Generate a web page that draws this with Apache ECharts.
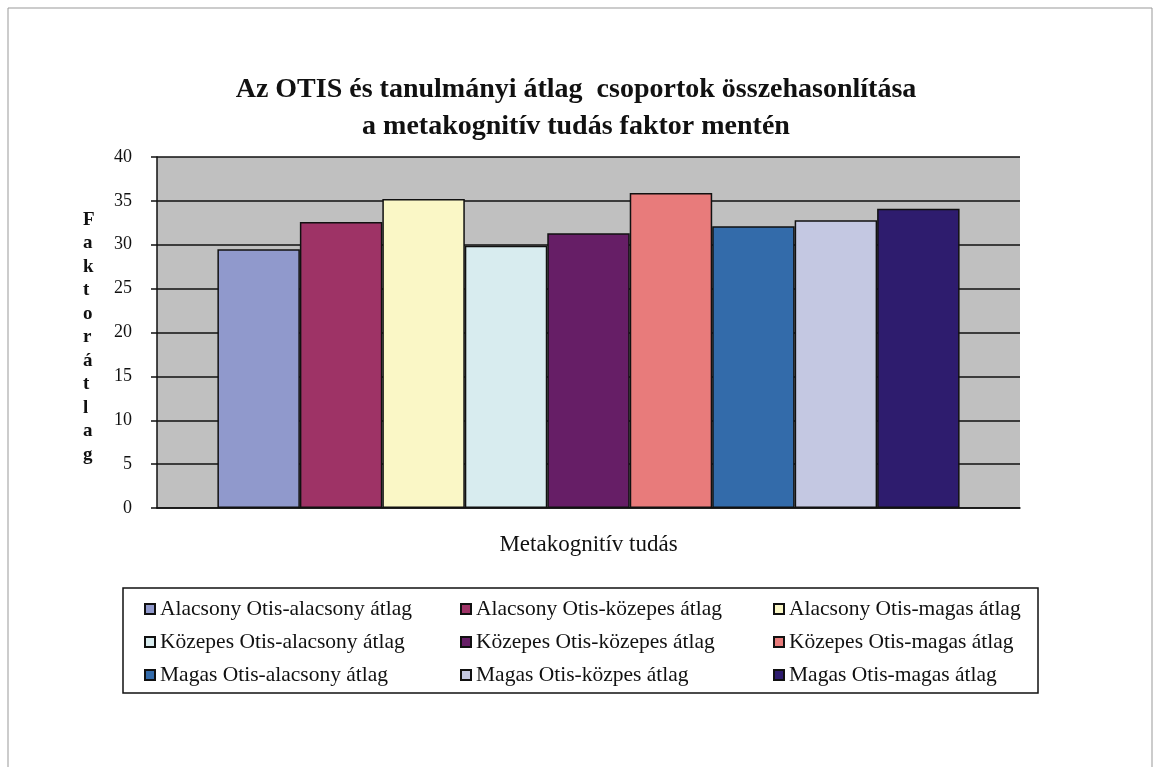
<!DOCTYPE html>
<html>
<head>
<meta charset="utf-8">
<script src="https://cdn.jsdelivr.net/npm/echarts@6/dist/echarts.min.js"></script>
<style>
  html, body { margin: 0; padding: 0; background: #fff; }
  #chart { width: 1160px; height: 767px; }
</style>
</head>
<body>
<div id="chart"></div>
<script>
// adatok
const category = ['Metakognitív tudás']
const groupNames = [
  'Alacsony Otis-alacsony átlag',
  'Alacsony Otis-közepes átlag',
  'Alacsony Otis-magas átlag',
  'Közepes Otis-alacsony átlag',
  'Közepes Otis-közepes átlag',
  'Közepes Otis-magas átlag',
  'Magas Otis-alacsony átlag',
  'Magas Otis-közpes átlag',
  'Magas Otis-magas átlag'
]
const groupValues = [29.5, 32.6, 35.2, 29.9, 31.3, 35.9, 32.1, 32.8, 34.1]
const groupColors = ['#9099cc', '#9e3366', '#faf7c6', '#d8ecef', '#661e66', '#e87b7b', '#336baa', '#c4c8e2', '#2e1c6e']
const yTicks = { min: 0, max: 40, interval: 5 }

const serif = "'Liberation Serif', 'DejaVu Serif', serif"

let myChart = echarts.init(document.getElementById('chart'))

let series = groupNames.map(function (name, i) {
  return {
    name: name,
    type: 'bar',
    barGap: '0%',
    barCategoryGap: '14%',
    data: [groupValues[i]],
    itemStyle: {
      color: groupColors[i],
      borderColor: '#111',
      borderWidth: 1.5
    }
  }
})

// legend: 3 oszlop
let legendCols = [0, 1, 2].map(function (c) {
  return {
    orient: 'vertical',
    left: [139, 455, 768][c],
    top: 593,
    itemWidth: 10,
    itemHeight: 10,
    itemGap: 11,
    icon: 'rect',
    data: [groupNames[c], groupNames[c + 3], groupNames[c + 6]],
    textStyle: { fontFamily: serif, fontSize: 21.5, color: '#111' }
  }
})

let option = {
  backgroundColor: '#fff',
  animation: false,
  title: {
    text: 'Az OTIS és tanulmányi átlag  csoportok összehasonlítása\na metakognitív tudás faktor mentén',
    left: 571,
    textAlign: 'center',
    top: 66,
    textStyle: {
      fontFamily: serif,
      fontSize: 28,
      fontWeight: 'bold',
      color: '#111',
      lineHeight: 37
    }
  },
  legend: legendCols,
  grid: {
    left: 157,
    right: 140,
    top: 157,
    bottom: 259,
    show: true,
    backgroundColor: '#c0c0c0',
    borderWidth: 0
  },
  xAxis: {
    type: 'category',
    data: category,
    axisLine: { lineStyle: { color: '#111', width: 1.5 } },
    axisTick: { show: false },
    axisLabel: { fontFamily: serif, fontSize: 23, color: '#111', margin: 25 }
  },
  yAxis: {
    type: 'value',
    min: yTicks.min,
    max: yTicks.max,
    interval: yTicks.interval,
    axisLine: { show: true, lineStyle: { color: '#111', width: 1.5 } },
    axisTick: { show: true, length: 6, lineStyle: { color: '#111', width: 1.5 } },
    axisLabel: { fontFamily: serif, fontSize: 18, color: '#111', margin: 25 },
    splitLine: { lineStyle: { color: '#111', width: 1.5 } }
  },
  graphic: [
    {
      type: 'rect',
      shape: { x: 8, y: 8, width: 1144, height: 770 },
      style: { fill: 'none', stroke: '#999', lineWidth: 1 },
      silent: true
    },
    {
      type: 'rect',
      shape: { x: 123, y: 588, width: 915, height: 105 },
      style: { fill: 'none', stroke: '#111', lineWidth: 1.5 },
      silent: true,
      z: -1
    },
    {
      type: 'text',
      left: 83,
      top: 208,
      style: {
        text: 'Faktorátlag'.split('').join('\n'),
        font: "bold 19px " + serif,
        lineHeight: 23.5,
        align: 'center',
        fill: '#111'
      }
    }
  ],
  series: series
}

myChart.setOption(option)
</script>
</body>
</html>
